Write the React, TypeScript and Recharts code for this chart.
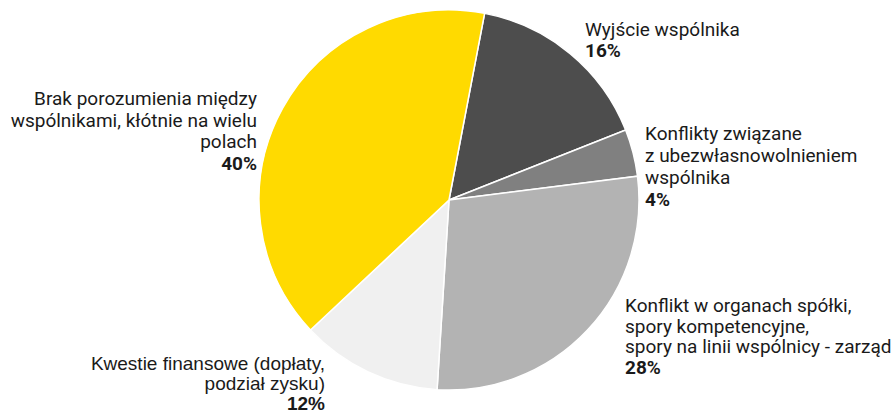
import React from "react";
import { PieChart, Pie, Cell } from "recharts";

const categories = [
  "Wyjście wspólnika",
  "Konflikty związane z ubezwłasnowolnieniem wspólnika",
  "Konflikt w organach spółki, spory kompetencyjne, spory na linii wspólnicy - zarząd",
  "Kwestie finansowe (dopłaty, podział zysku)",
  "Brak porozumienia między wspólnikami, kłótnie na wielu polach",
];
const values = [16, 4, 28, 12, 40];
const labelLines = [
  ["Wyjście wspólnika"],
  ["Konflikty związane", "z ubezwłasnowolnieniem", "wspólnika"],
  ["Konflikt w organach spółki,", "spory kompetencyjne,", "spory na linii wspólnicy - zarząd"],
  ["Kwestie finansowe (dopłaty,", "podział zysku)"],
  ["Brak porozumienia między", "wspólnikami, kłótnie na wielu", "polach"],
];
const colors = ["#4d4d4d", "#808080", "#b3b3b3", "#f0f0f0", "#ffda00"];

// label placement relative to pie center (style only)
const labelLayout = [
  { dx: 136, dy: -164, lh: 21, anchor: "start", font: "Roboto" },
  { dx: 196, dy: -60, lh: 22, anchor: "start", font: "Roboto" },
  { dx: 176, dy: 112, lh: 20.7, anchor: "start", font: "Roboto" },
  { dx: -124, dy: 170, lh: 20, anchor: "end", font: "'Liberation Sans', Arial" },
  { dx: -192, dy: -95, lh: 21.5, anchor: "end", font: "Roboto" },
];

const data = categories.map((name, i) => ({ name, value: values[i] }));

const renderLabel = (props: any) => {
  const { cx, cy, index, value } = props;
  const lay = labelLayout[index];
  const lines = labelLines[index];
  const x = cx + lay.dx;
  const y0 = cy + lay.dy;
  return (
    <text
      key={"lbl" + index}
      x={x}
      y={y0}
      textAnchor={lay.anchor}
      fontFamily={lay.font}
      fontSize={19}
      fill="#1a1a1a"
    >
      {lines.map((l, j) => (
        <tspan key={j} x={x} y={y0 + j * lay.lh}>
          {l}
        </tspan>
      ))}
      <tspan x={x} y={y0 + lines.length * lay.lh} fontWeight="bold">
        {value + "%"}
      </tspan>
    </text>
  );
};

export default function App() {
  return (
    <div style={{ position: "absolute", left: 0, top: 0, width: 894, height: 413, background: "#fff" }}>
      <PieChart width={894} height={413} margin={{ top: 0, right: 0, bottom: 0, left: 0 }}>
        <Pie
          data={data}
          dataKey="value"
          nameKey="name"
          cx={449}
          cy={200}
          outerRadius={190}
          startAngle={79.2}
          endAngle={-280.8}
          stroke="#ffffff"
          strokeWidth={1.5}
          label={renderLabel}
          labelLine={false}
          isAnimationActive={false}
        >
          {data.map((d, i) => (
            <Cell key={i} fill={colors[i]} />
          ))}
        </Pie>
      </PieChart>
    </div>
  );
}
